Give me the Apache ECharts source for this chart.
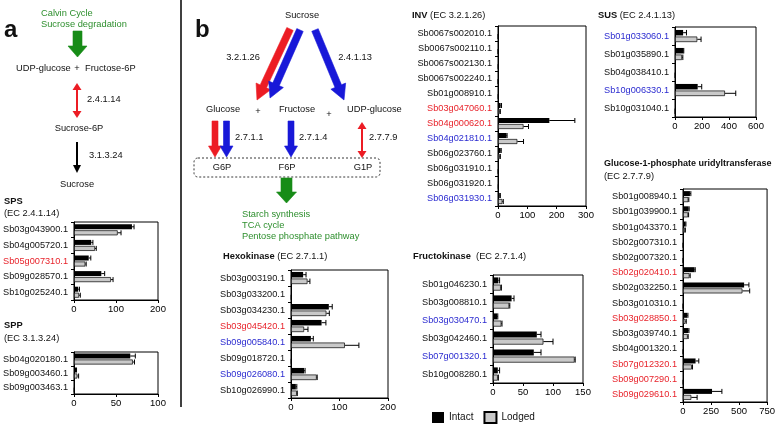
<!DOCTYPE html>
<html><head><meta charset="utf-8">
<script src="https://cdn.jsdelivr.net/npm/echarts@6/dist/echarts.min.js"></script>
<style>html,body{margin:0;padding:0;background:#fff}#c{width:778px;height:424px}</style>
</head><body><div id="c"></div>
<script>
// ---------- DATA ----------
const spsGenes = ['Sb03g043900.1','Sb04g005720.1','Sb05g007310.1','Sb09g028570.1','Sb10g025240.1'];
const spsIntact = [138, 41, 35, 65, 10];
const spsIntactSD = [5, 4, 5, 8, 3];
const spsLodged = [104, 50, 27, 88, 12];
const spsLodgedSD = [8, 3, 2, 5, 3];
const spsRed = ['Sb05g007310.1'];
const spsBlue = [];

const sppGenes = ['Sb04g020180.1','Sb09g003460.1','Sb09g003463.1'];
const sppIntact = [67, 2.5, 0.5];
const sppIntactSD = [6, 0.5, 0];
const sppLodged = [70, 4, 0.5];
const sppLodgedSD = [2, 1.5, 0];
const sppRed = [];
const sppBlue = [];

const hexGenes = ['Sb03g003190.1','Sb03g033200.1','Sb03g034230.1','Sb03g045420.1','Sb09g005840.1','Sb09g018720.1','Sb09g026080.1','Sb10g026990.1'];
const hexIntact = [25, 1, 78, 63, 41, 1, 27, 10];
const hexIntactSD = [6, 0, 7, 9, 5, 0, 2, 2];
const hexLodged = [34, 1, 73, 27, 111, 1, 53, 12];
const hexLodgedSD = [5, 0, 6, 8, 29, 0, 1, 1];
const hexRed = ['Sb03g045420.1'];
const hexBlue = ['Sb09g005840.1','Sb09g026080.1'];

const invGenes = ['Sb0067s002010.1','Sb0067s002110.1','Sb0067s002130.1','Sb0067s002240.1','Sb01g008910.1','Sb03g047060.1','Sb04g000620.1','Sb04g021810.1','Sb06g023760.1','Sb06g031910.1','Sb06g031920.1','Sb06g031930.1'];
const invIntact = [0.5, 0.5, 1, 0.5, 1.5, 9, 175, 29, 9, 1, 2, 6];
const invIntactSD = [0, 0, 0, 0, 0, 3, 87, 2, 2, 0, 0, 2];
const invLodged = [0.3, 0.3, 1, 0.3, 1, 6, 87, 66, 6, 1, 2, 15];
const invLodgedSD = [0, 0, 0, 0, 0, 2, 17, 21, 2, 0, 0, 3];
const invRed = ['Sb03g047060.1','Sb04g000620.1'];
const invBlue = ['Sb04g021810.1','Sb06g031930.1'];

const frkGenes = ['Sb01g046230.1','Sb03g008810.1','Sb03g030470.1','Sb03g042460.1','Sb07g001320.1','Sb10g008280.1'];
const frkIntact = [9, 31, 7, 73, 68, 8];
const frkIntactSD = [2, 4, 1, 7, 12, 3];
const frkLodged = [13, 27, 14, 84, 136, 8];
const frkLodgedSD = [1, 1, 1, 16, 1, 1];
const frkRed = [];
const frkBlue = ['Sb03g030470.1','Sb07g001320.1'];

const susGenes = ['Sb01g033060.1','Sb01g035890.1','Sb04g038410.1','Sb10g006330.1','Sb10g031040.1'];
const susIntact = [60, 63, 1, 168, 1];
const susIntactSD = [25, 2, 0, 30, 0];
const susLodged = [165, 52, 1, 370, 1];
const susLodgedSD = [28, 6, 0, 80, 0];
const susRed = [];
const susBlue = ['Sb01g033060.1','Sb10g006330.1'];

const ugpGenes = ['Sb01g008940.1','Sb01g039900.1','Sb01g043370.1','Sb02g007310.1','Sb02g007320.1','Sb02g020410.1','Sb02g032250.1','Sb03g010310.1','Sb03g028850.1','Sb03g039740.1','Sb04g001320.1','Sb07g012320.1','Sb09g007290.1','Sb09g029610.1'];
const ugpIntact = [62, 50, 22, 1, 1, 103, 545, 1, 38, 48, 1, 112, 3, 259];
const ugpIntactSD = [8, 5, 4, 0, 0, 6, 43, 0, 6, 5, 0, 29, 0, 88];
const ugpLodged = [48, 46, 18, 0.5, 0.5, 58, 530, 0.5, 22, 42, 0.5, 79, 2, 74];
const ugpLodgedSD = [4, 4, 3, 0, 0, 6, 65, 0, 7, 4, 0, 6, 0, 52];
const ugpRed = ['Sb02g020410.1','Sb03g028850.1','Sb07g012320.1','Sb09g007290.1','Sb09g029610.1'];
const ugpBlue = [];

const xTicks = { sps:[200,100], spp:[100,50], hex:[200,100], inv:[300,100], frk:[150,50], sus:[600,200], ugp:[750,250] };
const legendNames = ['Intact','Lodged'];

// ---------- LAYOUT / STYLE ----------
const FONT = '"Liberation Sans", Arial, Helvetica, sans-serif';
const RED_T = '#e8232b', BLUE_T = '#2b2bd0';
const RED = '#ec1c24', BLUE = '#1818d8', GREEN = '#178c17', GREEN_T = '#2e8f2e';
const GRAY = '#c9c9c9';

const charts = [
  {key:'sps', genes:spsGenes, a:spsIntact, aSD:spsIntactSD, b:spsLodged, bSD:spsLodgedSD, red:spsRed, blue:spsBlue, box:[74,222,84,78], bw:5},
  {key:'spp', genes:sppGenes, a:sppIntact, aSD:sppIntactSD, b:sppLodged, bSD:sppLodgedSD, red:sppRed, blue:sppBlue, box:[74,352,84,42], bw:5},
  {key:'hex', genes:hexGenes, a:hexIntact, aSD:hexIntactSD, b:hexLodged, bSD:hexLodgedSD, red:hexRed, blue:hexBlue, box:[291,270,97,128], bw:5.5},
  {key:'inv', genes:invGenes, a:invIntact, aSD:invIntactSD, b:invLodged, bSD:invLodgedSD, red:invRed, blue:invBlue, box:[498,26,88,180], bw:5},
  {key:'frk', genes:frkGenes, a:frkIntact, aSD:frkIntactSD, b:frkLodged, bSD:frkLodgedSD, red:frkRed, blue:frkBlue, box:[493,275,90,108], bw:6},
  {key:'sus', genes:susGenes, a:susIntact, aSD:susIntactSD, b:susLodged, bSD:susLodgedSD, red:susRed, blue:susBlue, box:[675,27,81,90], bw:5.5},
  {key:'ugp', genes:ugpGenes, a:ugpIntact, aSD:ugpIntactSD, b:ugpLodged, bSD:ugpLodgedSD, red:ugpRed, blue:ugpBlue, box:[683,189,85,213], bw:5}
];
const GAP = 0.2;

const grid = [], xAxis = [], yAxis = [], series = [];
charts.forEach((c, i) => {
  grid.push({left:c.box[0], top:c.box[1], width:c.box[2], height:c.box[3], show:true, borderColor:'#000', borderWidth:1, containLabel:false});
  xAxis.push({type:'value', gridIndex:i, min:0, max:xTicks[c.key][0], interval:xTicks[c.key][1],
    axisLine:{show:true, lineStyle:{color:'#000', width:1}}, axisTick:{show:true, length:3, lineStyle:{color:'#000'}},
    axisLabel:{fontSize:9.5, color:'#000', margin:4, fontFamily:FONT, showMaxLabel:true}, splitLine:{show:false}});
  yAxis.push({type:'category', gridIndex:i, inverse:true,
    data:c.genes.map(g => ({value:g, textStyle:{color: c.red.includes(g) ? RED_T : (c.blue.includes(g) ? BLUE_T : '#111')}})),
    axisLine:{show:true, lineStyle:{color:'#000', width:1}}, axisTick:{show:true, length:3, lineStyle:{color:'#000'}},
    axisLabel:{fontSize:9.2, margin:6, fontFamily:FONT, interval:0}});
  series.push({type:'bar', name:'Intact', xAxisIndex:i, yAxisIndex:i, data:c.a, barWidth:c.bw, barGap:(GAP*100)+'%',
    itemStyle:{color:'#000'}, silent:true});
  series.push({type:'bar', name:'Lodged', xAxisIndex:i, yAxisIndex:i, data:c.b, barWidth:c.bw, barGap:(GAP*100)+'%',
    itemStyle:{color:GRAY, borderColor:'#000', borderWidth:0.7}, silent:true});
  const errData = [];
  c.genes.forEach((g, j) => { errData.push([c.a[j], j, c.aSD[j], 0]); errData.push([c.b[j], j, c.bSD[j], 1]); });
  const w = c.bw;
  series.push({type:'custom', name:'err', xAxisIndex:i, yAxisIndex:i, data:errData, encode:{x:0, y:1}, silent:true, z:5,
    renderItem:function(params, api){
      const v = api.value(0), cat = api.value(1), sd = api.value(2), k = api.value(3);
      if (!(sd > 0)) return null;
      const p0 = api.coord([v, cat]), p1 = api.coord([v + sd, cat]);
      const off = (w + w*GAP)/2 * (k === 0 ? -1 : 1);
      const y = p0[1] + off;
      return {type:'group', children:[
        {type:'line', shape:{x1:p0[0], y1:y, x2:p1[0], y2:y}, style:{stroke:'#000', lineWidth:1}},
        {type:'line', shape:{x1:p1[0], y1:y - w/2, x2:p1[0], y2:y + w/2}, style:{stroke:'#000', lineWidth:1}}
      ]};
    }});
});

// ---------- DIAGRAM GRAPHICS ----------
const gfx = [];
function txt(x, y, s, o) {
  o = o || {};
  gfx.push({type:'text', silent:true, z:10, style:{x:x, y:y, text:s, fill:o.fill || '#111',
    font:(o.bold ? 'bold ' : '') + (o.size || 9.3) + 'px ' + FONT,
    align:o.align || 'left', verticalAlign:o.va || 'middle'}});
}
function richTitle(x, y, bold, rest) {
  gfx.push({type:'text', silent:true, z:10, style:{x:x, y:y, text:'{b|' + bold + '}{n|' + rest + '}',
    font:'9px ' + FONT, fill:'#111', align:'left', verticalAlign:'middle',
    rich:{b:{font:'bold 9.3px ' + FONT, fill:'#111'}, n:{font:'9.3px ' + FONT, fill:'#111'}}}});
}
function arrow(x1, y1, x2, y2, w, hw, hl, col) {
  const dx = x2 - x1, dy = y2 - y1, L = Math.hypot(dx, dy), ux = dx / L, uy = dy / L, px = -uy, py = ux;
  const bx = x2 - ux * hl, by = y2 - uy * hl;
  const pts = [[x1 + px*w/2, y1 + py*w/2], [bx + px*w/2, by + py*w/2], [bx + px*hw/2, by + py*hw/2], [x2, y2],
    [bx - px*hw/2, by - py*hw/2], [bx - px*w/2, by - py*w/2], [x1 - px*w/2, y1 - py*w/2]];
  gfx.push({type:'polygon', silent:true, z:8, shape:{points:pts}, style:{fill:col, stroke:col, lineWidth:0.6}});
}
function thinArrow(x, y1, y2, col, both, hw, hl, lw) {
  gfx.push({type:'line', silent:true, z:8, shape:{x1:x, y1:both ? y1 + hl - 1 : y1, x2:x, y2:y2 - hl + 1}, style:{stroke:col, lineWidth:lw}});
  gfx.push({type:'polygon', silent:true, z:8, shape:{points:[[x - hw/2, y2 - hl], [x, y2], [x + hw/2, y2 - hl]]}, style:{fill:col}});
  if (both) gfx.push({type:'polygon', silent:true, z:8, shape:{points:[[x - hw/2, y1 + hl], [x, y1], [x + hw/2, y1 + hl]]}, style:{fill:col}});
}

// panel a
txt(4, 18, 'a', {bold:true, size:24, va:'alphabetic'});
txt(41, 13, 'Calvin Cycle', {fill:GREEN_T});
txt(41, 24, 'Sucrose degradation', {fill:GREEN_T});
arrow(77.5, 31, 77.5, 57, 9, 19, 11, GREEN);
txt(16, 68, 'UDP-glucose');
txt(77, 68, '+', {align:'center'});
txt(85, 68, 'Fructose-6P');
thinArrow(77, 83, 118, RED, true, 9, 7, 2);
txt(87, 99, '2.4.1.14');
txt(79, 128, 'Sucrose-6P', {align:'center'});
thinArrow(77, 142, 173, '#000', false, 8, 8, 2);
txt(89, 155, '3.1.3.24');
txt(77, 184, 'Sucrose', {align:'center'});
txt(4, 201, 'SPS', {bold:true});
txt(4, 213, '(EC 2.4.1.14)');
txt(4, 325, 'SPP', {bold:true});
txt(4, 338, '(EC 3.1.3.24)');

// separator
gfx.push({type:'line', silent:true, shape:{x1:181, y1:0, x2:181, y2:407}, style:{stroke:'#000', lineWidth:1.5}});

// panel b
txt(195, 18, 'b', {bold:true, size:24, va:'alphabetic'});
txt(302, 15, 'Sucrose', {align:'center'});
arrow(290, 29, 257, 100, 7, 16, 15, RED);
arrow(300, 30, 270, 98, 7, 16, 15, BLUE);
arrow(315, 30, 344, 100, 7, 16, 15, BLUE);
txt(243, 57, '3.2.1.26', {align:'center'});
txt(355, 57, '2.4.1.13', {align:'center'});
txt(223, 109, 'Glucose', {align:'center'});
txt(258, 111, '+', {align:'center'});
txt(297, 109, 'Fructose', {align:'center'});
txt(329, 114, '+', {align:'center'});
txt(347, 109, 'UDP-glucose');
arrow(215, 121, 215, 157, 6, 13, 11, RED);
arrow(226.5, 121, 226.5, 157, 6, 13, 11, BLUE);
arrow(291, 121, 291, 157, 6, 13, 11, BLUE);
thinArrow(362, 122, 158, RED, true, 9, 7, 2);
txt(235, 137, '2.7.1.1');
txt(299, 137, '2.7.1.4');
txt(369, 137, '2.7.7.9');
gfx.push({type:'rect', silent:true, z:7, shape:{x:194, y:158, width:186, height:19, r:4}, style:{fill:'none', stroke:'#222', lineWidth:0.9, lineDash:[2, 2]}});
txt(222, 167.5, 'G6P', {align:'center'});
txt(287, 167.5, 'F6P', {align:'center'});
txt(363, 167.5, 'G1P', {align:'center'});
arrow(286.5, 178, 286.5, 203, 11, 20, 11, GREEN);
txt(242, 214, 'Starch synthesis', {fill:GREEN_T});
txt(242, 225, 'TCA cycle', {fill:GREEN_T});
txt(242, 236, 'Pentose phosphate pathway', {fill:GREEN_T});

richTitle(223, 256, 'Hexokinase', ' (EC 2.7.1.1)');
richTitle(412, 15, 'INV', ' (EC 3.2.1.26)');
richTitle(413, 256, 'Fructokinase', '  (EC 2.7.1.4)');
richTitle(598, 15, 'SUS', ' (EC 2.4.1.13)');
txt(604, 164, 'Glucose-1-phosphate uridyltransferase', {bold:true, size:9});
txt(604, 176, '(EC 2.7.7.9)');

const chart = echarts.init(document.getElementById('c'), null, {renderer:'canvas'});
chart.setOption({
  backgroundColor:'#fff',
  animation:false,
  textStyle:{fontFamily:FONT},
  legend:{data:legendNames, left:432, top:411, padding:0, itemWidth:12, itemHeight:11, itemGap:10, selectedMode:false,
    textStyle:{fontSize:10, color:'#111', fontFamily:FONT}, icon:'rect'},
  grid:grid, xAxis:xAxis, yAxis:yAxis, series:series,
  graphic:{elements:gfx}
});
</script>
</body></html>
